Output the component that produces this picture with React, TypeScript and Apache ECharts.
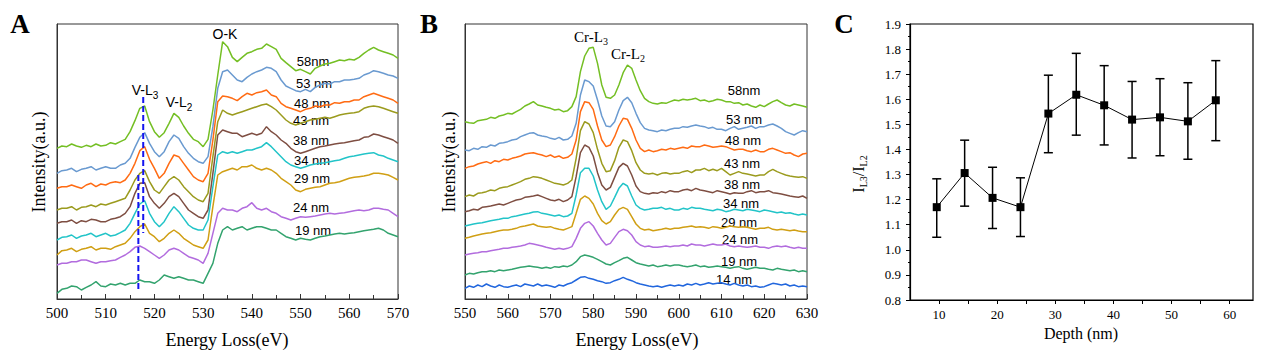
import React, { useEffect, useRef } from "react";
import * as echarts from "echarts";

// ---------- Panel A : V-L2,3 / O-K EELS (energy loss, eV) ----------
const energyA = [
  500, 501, 502, 503, 504, 505, 506, 507, 508, 509, 510, 511, 512, 513, 514, 515, 516, 517, 518, 519,
  520, 521, 522, 523, 524, 525, 526, 527, 528, 529, 530, 531, 532, 533, 534, 535, 536, 537, 538, 539,
  540, 541, 542, 543, 544, 545, 546, 547, 548, 549, 550, 551, 552, 553, 554, 555, 556, 557, 558, 559,
  560, 561, 562, 563, 564, 565, 566, 567, 568, 569, 570,
];
const labelsA = ["58nm", "53 nm", "48 nm", "43 nm", "38 nm", "34 nm", "29 nm", "24 nm", "19 nm"];
const a58 = [
  452, 459, 457, 465, 459, 455, 461, 457, 465, 459, 461, 469, 465, 472, 479, 502, 535, 572, 579, 532,
  502, 485, 499, 527, 557, 545, 519, 497, 479, 472, 457, 479, 567, 672, 772, 757, 725, 712, 725, 737,
  742, 749, 752, 765, 757, 749, 722, 709, 697, 685, 689, 682, 675, 692, 699, 705, 707, 712, 717, 715,
  719, 717, 725, 737, 747, 755, 747, 742, 737, 732, 722,
];
const a53 = [
  377, 385, 387, 392, 382, 389, 392, 397, 387, 392, 397, 392, 392, 402, 407, 422, 455, 485, 499, 467,
  442, 427, 442, 472, 492, 482, 457, 437, 422, 412, 407, 427, 517, 632, 682, 687, 672, 657, 652, 665,
  675, 682, 687, 695, 692, 682, 657, 639, 632, 625, 622, 629, 622, 635, 642, 647, 645, 652, 652, 657,
  657, 659, 662, 672, 677, 685, 682, 677, 672, 669, 662,
];
const a48 = [
  332, 337, 337, 342, 337, 332, 342, 347, 337, 345, 342, 349, 352, 349, 357, 377, 407, 445, 457, 419,
  392, 362, 377, 407, 432, 427, 407, 387, 367, 357, 352, 377, 477, 592, 609, 607, 602, 595, 607, 617,
  612, 619, 622, 627, 612, 607, 587, 577, 572, 567, 562, 569, 572, 579, 577, 582, 582, 589, 587, 592,
  592, 597, 597, 607, 612, 617, 612, 607, 602, 597, 587,
];
const a43 = [
  267, 272, 272, 277, 267, 275, 277, 282, 277, 285, 282, 287, 292, 297, 302, 327, 357, 377, 385, 352,
  327, 317, 337, 357, 367, 357, 337, 322, 307, 297, 292, 317, 427, 532, 567, 557, 552, 557, 562, 567,
  572, 577, 582, 585, 577, 567, 552, 537, 527, 522, 527, 532, 537, 539, 542, 545, 542, 547, 552, 555,
  557, 559, 562, 572, 577, 579, 577, 572, 567, 562, 557,
];
const a38 = [
  227, 232, 232, 237, 227, 235, 232, 239, 237, 232, 232, 239, 242, 247, 257, 277, 317, 347, 349, 307,
  287, 272, 287, 307, 317, 307, 287, 267, 257, 247, 242, 267, 377, 492, 507, 502, 497, 497, 487, 492,
  497, 492, 497, 517, 502, 492, 477, 467, 452, 442, 437, 442, 447, 452, 457, 459, 462, 465, 467, 469,
  472, 475, 477, 485, 487, 495, 492, 487, 482, 477, 467,
];
const a34 = [
  177, 185, 187, 192, 182, 189, 192, 197, 187, 192, 197, 189, 192, 199, 207, 227, 257, 285, 295, 257,
  232, 217, 232, 257, 277, 262, 242, 222, 212, 207, 207, 237, 337, 432, 442, 437, 442, 437, 442, 447,
  447, 452, 457, 469, 457, 442, 427, 412, 402, 397, 392, 397, 402, 405, 407, 409, 412, 415, 417, 422,
  427, 429, 432, 435, 437, 439, 432, 429, 422, 417, 412,
];
const a29 = [
  132, 145, 147, 152, 142, 149, 152, 157, 147, 152, 152, 149, 157, 162, 167, 182, 202, 217, 225, 197,
  187, 172, 182, 197, 207, 197, 182, 172, 162, 157, 152, 177, 277, 372, 382, 387, 392, 387, 397, 397,
  402, 392, 387, 392, 387, 377, 362, 352, 342, 327, 322, 329, 332, 335, 337, 342, 347, 349, 352, 357,
  362, 365, 367, 369, 372, 377, 377, 375, 372, 365, 357,
];
const a24 = [
  102, 107, 107, 112, 112, 117, 117, 112, 107, 112, 112, 115, 117, 125, 132, 142, 155, 159, 152, 142,
  132, 122, 132, 147, 152, 147, 137, 127, 122, 117, 107, 137, 197, 257, 272, 267, 267, 262, 272, 277,
  289, 272, 267, 272, 262, 257, 247, 242, 237, 242, 247, 245, 247, 249, 252, 255, 257, 255, 257, 259,
  262, 265, 267, 265, 267, 272, 272, 269, 267, 257, 247,
];
const a19 = [
  17, 29, 32, 39, 37, 27, 35, 42, 52, 39, 37, 45, 42, 47, 42, 47, 47, 57, 52, 52,
  47, 57, 72, 67, 62, 67, 62, 57, 57, 52, 47, 77, 107, 167, 207, 217, 207, 212, 217, 207,
  212, 217, 217, 212, 207, 207, 197, 187, 182, 177, 182, 179, 177, 182, 187, 189, 192, 195, 197, 195,
  197, 199, 202, 205, 207, 209, 212, 207, 197, 192, 187,
];
// blue dashed guide lines at the V-L3 peak (energy, intensity)
const guideL3Upper = [[517.7, 606], [517.7, 198]];
const guideL3Lower = [[516.7, 372], [516.7, 21]];

// ---------- Panel B : Cr-L2,3 EELS ----------
const energyB = [
  550, 551, 552, 553, 554, 555, 556, 557, 558, 559, 560, 561, 562, 563, 564, 565, 566, 567, 568, 569,
  570, 571, 572, 573, 574, 575, 576, 577, 578, 579, 580, 581, 582, 583, 584, 585, 586, 587, 588, 589,
  590, 591, 592, 593, 594, 595, 596, 597, 598, 599, 600, 601, 602, 603, 604, 605, 606, 607, 608, 609,
  610, 611, 612, 613, 614, 615, 616, 617, 618, 619, 620, 621, 622, 623, 624, 625, 626, 627, 628, 629,
  630,
];
const labelsB = ["58nm", "53 nm", "48 nm", "43 nm", "38 nm", "34 nm", "29 nm", "24 nm", "19 nm", "14 nm"];
const b58 = [
  532, 529, 527, 535, 537, 539, 545, 542, 549, 552, 557, 555, 562, 569, 579, 585, 592, 582, 579, 575,
  572, 567, 569, 562, 565, 577, 607, 682, 729, 752, 755, 707, 642, 605, 602, 612, 642, 679, 702, 692,
  657, 625, 602, 592, 587, 585, 589, 587, 592, 597, 595, 599, 597, 599, 602, 595, 597, 592, 595, 599,
  597, 592, 592, 587, 589, 582, 585, 579, 575, 582, 577, 585, 592, 597, 589, 582, 579, 585, 582, 579,
  575,
];
const b53 = [
  447, 445, 452, 449, 457, 455, 462, 459, 467, 469, 472, 477, 479, 487, 492, 497, 499, 492, 489, 487,
  482, 479, 485, 477, 479, 489, 527, 612, 657, 652, 639, 597, 549, 519, 517, 532, 567, 595, 605, 589,
  557, 529, 512, 507, 505, 502, 507, 505, 509, 512, 512, 517, 515, 519, 522, 519, 517, 512, 515, 509,
  509, 505, 512, 517, 509, 512, 515, 519, 512, 517, 517, 522, 525, 519, 512, 502, 497, 492, 499, 505,
  502,
];
const b48 = [
  392, 397, 399, 405, 409, 412, 407, 415, 412, 419, 417, 422, 425, 429, 435, 437, 439, 435, 432, 427,
  432, 425, 429, 422, 425, 435, 477, 562, 592, 589, 569, 519, 477, 457, 462, 487, 519, 542, 539, 512,
  477, 452, 442, 447, 442, 445, 449, 447, 452, 449, 452, 455, 452, 459, 457, 457, 462, 459, 455, 457,
  459, 457, 452, 447, 449, 449, 445, 442, 447, 442, 442, 449, 452, 447, 442, 437, 439, 432, 427, 435,
  437,
];
const b43 = [
  307, 312, 309, 317, 319, 322, 327, 325, 332, 335, 337, 342, 347, 352, 359, 362, 367, 365, 362, 357,
  352, 347, 345, 342, 347, 357, 422, 505, 532, 525, 499, 449, 407, 382, 385, 415, 455, 477, 472, 445,
  409, 387, 377, 375, 377, 372, 377, 379, 375, 377, 377, 382, 385, 379, 387, 387, 392, 385, 389, 385,
  392, 382, 372, 377, 382, 377, 375, 372, 369, 372, 372, 382, 389, 382, 377, 372, 369, 367, 365, 367,
  362,
];
const b38 = [
  262, 265, 269, 267, 275, 277, 279, 282, 285, 282, 287, 292, 297, 299, 305, 307, 309, 312, 307, 302,
  297, 295, 299, 292, 297, 307, 367, 439, 462, 455, 429, 379, 342, 327, 335, 365, 395, 407, 399, 372,
  339, 322, 317, 315, 319, 317, 322, 319, 325, 322, 322, 327, 329, 325, 332, 327, 325, 322, 319, 325,
  322, 319, 315, 319, 317, 317, 322, 325, 319, 322, 322, 325, 319, 317, 315, 312, 309, 307, 305, 309,
  302,
];
const b34 = [
  219, 222, 225, 227, 229, 232, 235, 237, 239, 242, 242, 247, 249, 252, 255, 257, 261, 262, 257, 255,
  252, 249, 252, 247, 249, 257, 312, 379, 392, 392, 369, 327, 292, 269, 279, 305, 332, 347, 339, 309,
  282, 272, 267, 269, 272, 272, 275, 269, 272, 267, 267, 272, 269, 275, 272, 272, 269, 267, 265, 269,
  267, 262, 265, 269, 267, 265, 269, 267, 265, 262, 267, 265, 262, 259, 261, 257, 259, 255, 252, 255,
  252,
];
const b29 = [
  182, 185, 189, 192, 195, 197, 199, 202, 205, 207, 207, 209, 212, 217, 219, 222, 225, 219, 217, 215,
  217, 212, 209, 207, 212, 217, 257, 299, 309, 302, 285, 257, 235, 225, 232, 252, 269, 275, 269, 247,
  225, 212, 207, 209, 205, 207, 209, 212, 209, 212, 212, 215, 217, 219, 215, 217, 215, 212, 217, 215,
  212, 215, 219, 217, 215, 217, 215, 212, 209, 212, 212, 215, 209, 207, 209, 207, 205, 207, 204, 202,
  202,
];
const b24 = [
  132, 135, 137, 139, 142, 142, 145, 147, 149, 152, 152, 155, 157, 159, 162, 167, 165, 162, 159, 155,
  152, 149, 152, 149, 152, 157, 182, 212, 227, 232, 219, 197, 177, 162, 167, 185, 202, 209, 205, 192,
  172, 162, 157, 159, 155, 155, 157, 159, 157, 159, 159, 162, 159, 165, 162, 162, 159, 162, 165, 162,
  162, 165, 159, 157, 159, 157, 155, 157, 159, 155, 155, 152, 157, 159, 157, 159, 155, 152, 155, 152,
  152,
];
const b19 = [
  72, 77, 75, 79, 82, 82, 85, 82, 87, 85, 87, 89, 92, 95, 97, 99, 97, 95, 92, 95,
  92, 97, 95, 99, 97, 102, 112, 127, 132, 129, 125, 119, 112, 105, 102, 109, 115, 122, 125, 117,
  109, 105, 102, 99, 102, 97, 99, 102, 99, 102, 102, 99, 97, 99, 102, 97, 99, 95, 97, 99,
  97, 95, 92, 95, 97, 92, 89, 92, 95, 92, 92, 89, 87, 92, 89, 87, 85, 87, 82, 85,
  82,
];
const b14 = [
  32, 39, 35, 42, 37, 45, 39, 35, 42, 37, 35, 39, 42, 37, 45, 42, 39, 45, 39, 42,
  39, 35, 42, 39, 45, 49, 57, 65, 67, 62, 59, 55, 52, 47, 49, 55, 59, 65, 59, 55,
  49, 45, 42, 39, 37, 39, 35, 39, 42, 39, 42, 39, 45, 42, 47, 42, 45, 49, 45, 47,
  49, 45, 42, 47, 42, 39, 42, 37, 39, 35, 37, 42, 47, 45, 42, 45, 39, 42, 37, 39,
  37,
];

// ---------- Panel C : L3/L2 ratio vs depth ----------
const depth = [9.6, 14.4, 19.2, 24.0, 28.8, 33.6, 38.4, 43.2, 48.0, 52.8, 57.6];
const ratio = [1.17, 1.306, 1.207, 1.17, 1.543, 1.618, 1.576, 1.519, 1.528, 1.512, 1.596];
const ratioLow = [1.05, 1.174, 1.085, 1.053, 1.387, 1.457, 1.418, 1.366, 1.375, 1.361, 1.435];
const ratioHigh = [1.283, 1.437, 1.329, 1.287, 1.696, 1.783, 1.734, 1.671, 1.682, 1.666, 1.754];
const depthTicks = [10, 15, 20, 25, 30, 35, 40, 45, 50, 55, 60];
const depthLabels = [10, 20, 30, 40, 50, 60];

const colors = ["#74BF24", "#6A9AD0", "#FF6B13", "#9B9B1E", "#7E4E42", "#22C4C8", "#D09F14", "#B26CDE", "#33A36E", "#2166DD"];

const SERIF = "Liberation Serif";
const SANS = "Liberation Sans";

export default function App() {
  const ref = useRef<HTMLDivElement>(null);

  useEffect(() => {
    if (!ref.current) return;
    const chart = echarts.init(ref.current, undefined, { renderer: "svg" });

    const spectraA = [a58, a53, a48, a43, a38, a34, a29, a24, a19];
    const spectraB = [b58, b53, b48, b43, b38, b34, b29, b24, b19, b14];

    const specSeries = (arr: number[][], xs: number[], names: string[], idx: number) =>
      arr.map((vals, i) => ({
        name: names[i] + (idx === 0 ? " (A)" : " (B)"),
        type: "line",
        xAxisIndex: idx,
        yAxisIndex: idx,
        data: vals.map((v, j) => [xs[j], v]),
        showSymbol: false,
        symbol: "none",
        lineStyle: { color: colors[i], width: 1.5 },
        z: 3,
      }));

    const guide = (d: number[][]) => ({
      type: "line",
      xAxisIndex: 0,
      yAxisIndex: 0,
      data: d,
      showSymbol: false,
      symbol: "none",
      lineStyle: { color: "#1414F0", width: 2, type: [6, 3] },
      z: 5,
    });

    const specAxisX = (idx: number, min: number, max: number) => ({
      type: "value",
      gridIndex: idx,
      min,
      max,
      interval: 10,
      axisLine: { show: true, lineStyle: { color: "#333", width: 1 } },
      axisTick: { show: true, inside: true, length: 5, lineStyle: { color: "#333" } },
      minorTick: { show: true, splitNumber: 2, length: 4, lineStyle: { color: "#333" } },
      axisLabel: { fontFamily: SERIF, fontSize: 15, color: "#000", margin: 6 },
      splitLine: { show: false },
    });
    const specAxisY = (idx: number) => ({
      type: "value",
      gridIndex: idx,
      min: 0,
      max: 825,
      axisLine: { show: true, lineStyle: { color: "#333" } },
      axisTick: { show: false },
      axisLabel: { show: false },
      splitLine: { show: false },
    });

    const text = (x: number, y: number, t: string, font: string, size: number, extra: any = {}) => ({
      type: "text",
      x,
      y,
      ...extra,
      style: {
        text: t,
        fontFamily: font,
        fontSize: size,
        fill: "#000",
        align: "center",
        verticalAlign: "middle",
        ...(extra.style || {}),
      },
    });

    const labelPosA = [[313, 61], [314, 83], [312, 103], [311, 120], [311, 140], [312, 160], [312, 178], [311, 207], [313, 230]];
    const labelPosB = [[744, 90], [744, 119], [743, 140], [742, 163], [742, 184], [741, 203], [739, 222], [740, 239], [739, 261], [734, 279]];

    const subRich = (font: string, main: number, sub: number, pad: number) => ({
      m: { fontFamily: font, fontSize: main, lineHeight: main, verticalAlign: "top", fill: "#000" },
      s: { fontFamily: font, fontSize: sub, lineHeight: sub, verticalAlign: "top", padding: [pad, 0, 0, 0], fill: "#000" },
    });

    const graphics: any[] = [
      text(20, 24, "A", SERIF, 27, { style: { fontWeight: "bold" } }),
      text(429, 24, "B", SERIF, 27, { style: { fontWeight: "bold" } }),
      text(844, 24, "C", SERIF, 27, { style: { fontWeight: "bold" } }),
      text(227, 340, "Energy Loss(eV)", SERIF, 18),
      text(637, 340, "Energy Loss(eV)", SERIF, 18),
      text(39, 162, "Intensity(a.u.)", SERIF, 18, { rotation: Math.PI / 2 }),
      text(449, 162, "Intensity(a.u.)", SERIF, 18, { rotation: Math.PI / 2 }),
      text(1081, 333, "Depth (nm)", SERIF, 16),
      text(225, 34, "O-K", SANS, 14),
      {
        type: "text", x: 145, y: 90,
        style: { text: "{m|V-L}{s|3}", rich: subRich(SANS, 14, 10, 7), align: "center", verticalAlign: "middle" },
      },
      {
        type: "text", x: 179, y: 102,
        style: { text: "{m|V-L}{s|2}", rich: subRich(SANS, 14, 10, 7), align: "center", verticalAlign: "middle" },
      },
      {
        type: "text", x: 591, y: 37,
        style: { text: "{m|Cr-L}{s|3}", rich: subRich(SERIF, 15, 10, 7), align: "center", verticalAlign: "middle" },
      },
      {
        type: "text", x: 628, y: 54,
        style: { text: "{m|Cr-L}{s|2}", rich: subRich(SERIF, 15, 10, 7), align: "center", verticalAlign: "middle" },
      },
      {
        type: "text", x: 858, y: 174, rotation: Math.PI / 2,
        style: { text: "{m|I}{s|L3}{m|/I}{s|L2}", rich: subRich(SERIF, 16, 10, 8), align: "center", verticalAlign: "middle" },
      },
      ...labelsA.map((l, i) => text(labelPosA[i][0], labelPosA[i][1], l, SANS, 13)),
      ...labelsB.map((l, i) => text(labelPosB[i][0], labelPosB[i][1], l, SANS, 13)),
    ];

    chart.setOption({
      animation: false,
      backgroundColor: "#fff",
      grid: [
        { left: 57, top: 24, width: 341, height: 275, show: true, borderColor: "#333", borderWidth: 1, containLabel: false },
        { left: 465, top: 24, width: 342, height: 275, show: true, borderColor: "#333", borderWidth: 1, containLabel: false },
        { left: 910, top: 24, width: 343, height: 276, show: true, borderColor: "#000", borderWidth: 1.2, containLabel: false },
      ],
      xAxis: [
        specAxisX(0, 500, 570),
        specAxisX(1, 550, 630),
        {
          type: "value",
          gridIndex: 2,
          min: 5,
          max: 64,
          interval: 5,
          axisLine: { show: true, lineStyle: { color: "#000", width: 1.2 } },
          axisTick: { show: true, inside: false, length: 4, customValues: depthTicks, lineStyle: { color: "#000" } },
          axisLabel: { customValues: depthLabels, fontFamily: SERIF, fontSize: 13, color: "#000", margin: 8 },
          splitLine: { show: false },
        },
      ],
      yAxis: [
        specAxisY(0),
        specAxisY(1),
        {
          type: "value",
          gridIndex: 2,
          min: 0.8,
          max: 1.9,
          interval: 0.1,
          axisLine: { show: true, lineStyle: { color: "#000", width: 1.2 } },
          axisTick: { show: true, inside: false, length: 4, lineStyle: { color: "#000" } },
          minorTick: { show: true, splitNumber: 2, length: 2, lineStyle: { color: "#000" } },
          axisLabel: {
            fontFamily: SERIF, fontSize: 13, color: "#000", margin: 9,
            formatter: (v: number) => v.toFixed(1),
          },
          splitLine: { show: false },
        },
      ],
      graphic: graphics,
      series: [
        ...specSeries(spectraA, energyA, labelsA, 0),
        guide(guideL3Upper),
        guide(guideL3Lower),
        ...specSeries(spectraB, energyB, labelsB, 1),
        {
          type: "custom",
          name: "error",
          xAxisIndex: 2,
          yAxisIndex: 2,
          data: depth.map((d, i) => [d, ratioLow[i], ratioHigh[i]]),
          encode: { x: 0, y: [1, 2] },
          renderItem: (params: any, api: any) => {
            const x = api.value(0);
            const top = api.coord([x, api.value(2)]);
            const bot = api.coord([x, api.value(1)]);
            const w = 4.5;
            const st = { stroke: "#000", lineWidth: 1.5 };
            return {
              type: "group",
              children: [
                { type: "line", shape: { x1: top[0], y1: top[1], x2: bot[0], y2: bot[1] }, style: st },
                { type: "line", shape: { x1: top[0] - w, y1: top[1], x2: top[0] + w, y2: top[1] }, style: st },
                { type: "line", shape: { x1: bot[0] - w, y1: bot[1], x2: bot[0] + w, y2: bot[1] }, style: st },
              ],
            };
          },
          z: 2,
        },
        {
          type: "line",
          name: "ratio",
          xAxisIndex: 2,
          yAxisIndex: 2,
          data: depth.map((d, i) => [d, ratio[i]]),
          symbol: "rect",
          symbolSize: 8,
          itemStyle: { color: "#000" },
          lineStyle: { color: "#000", width: 1 },
          z: 4,
        },
      ],
    });

    return () => chart.dispose();
  }, []);

  return (
    <div
      ref={ref}
      style={{ position: "fixed", left: 0, top: 0, width: 1272, height: 357, background: "#fff" }}
    />
  );
}
